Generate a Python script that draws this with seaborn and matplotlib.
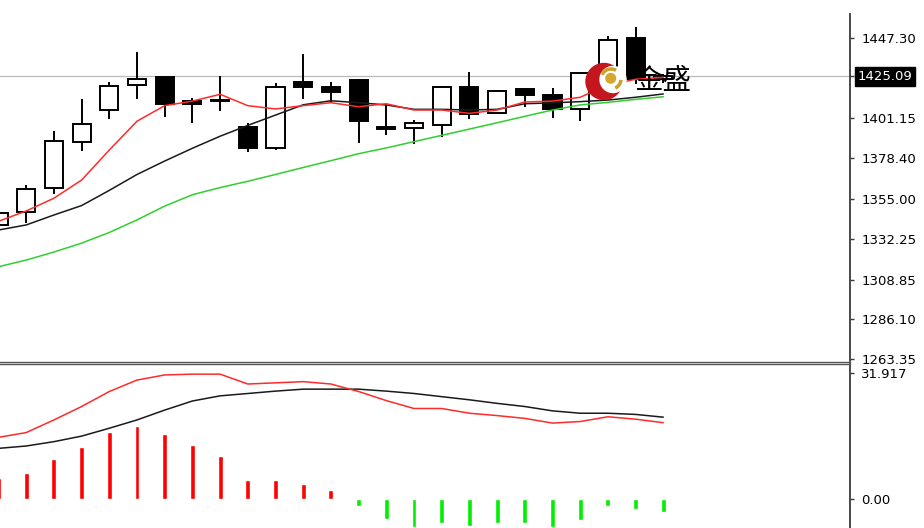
# ============================================================
# GOLD DAILY CANDLES + MA  /  MACD SUB-PANEL
# ============================================================

import numpy as np
import pandas as pd
import matplotlib
matplotlib.use('Agg')
import matplotlib.pyplot as plt
import matplotlib.transforms as mtransforms
from matplotlib.patches import Circle, Arc
import seaborn as sns

# ============================================================
# DATA
# ============================================================

opens  = [1340.1, 1347.3, 1361.1, 1387.6, 1405.7, 1420.2, 1424.6, 1411.0, 1411.6, 1396.3,
          1384.0, 1421.9, 1419.2, 1423.3, 1396.0, 1395.4, 1397.3, 1418.9, 1404.2, 1417.8,
          1414.7, 1406.3, 1426.5, 1447.0, 1423.5]
highs  = [1349.0, 1363.0, 1394.1, 1412.2, 1422.1, 1439.3, 1425.0, 1412.6, 1425.4, 1398.3,
          1421.2, 1438.0, 1422.1, 1423.5, 1408.5, 1400.4, 1419.0, 1427.5, 1417.4, 1418.2,
          1418.3, 1427.2, 1448.3, 1453.3, 1426.5]
lows   = [1337.5, 1341.4, 1357.6, 1382.6, 1400.8, 1412.0, 1402.1, 1398.6, 1405.5, 1382.0,
          1383.0, 1412.4, 1410.7, 1386.8, 1391.6, 1386.6, 1390.4, 1400.6, 1403.8, 1407.6,
          1401.2, 1399.8, 1422.0, 1421.0, 1421.5]
closes = [1346.9, 1360.5, 1388.3, 1397.9, 1419.6, 1423.8, 1409.2, 1409.5, 1410.8, 1384.0,
          1419.0, 1418.9, 1416.0, 1399.8, 1395.2, 1398.4, 1418.9, 1403.6, 1416.8, 1414.5,
          1406.3, 1426.9, 1446.0, 1423.5, 1425.09]

ma_fast = [1342.2, 1348.1, 1355.4, 1365.8, 1383.0, 1399.5, 1408.4, 1411.0, 1414.9, 1408.4,
           1406.5, 1408.4, 1410.1, 1407.8, 1409.5, 1405.9, 1405.9, 1404.0, 1405.9, 1410.5,
           1411.0, 1413.2, 1420.2, 1423.5, 1424.6]
ma_mid  = [1337.2, 1340.1, 1345.8, 1351.2, 1359.9, 1369.0, 1376.7, 1384.0, 1390.9, 1397.1,
           1403.0, 1408.9, 1411.2, 1410.1, 1408.8, 1406.3, 1406.3, 1405.9, 1406.3, 1409.5,
           1410.0, 1410.7, 1411.6, 1413.2, 1415.1]
ma_slow = [1316.2, 1320.0, 1324.6, 1329.7, 1335.8, 1343.0, 1350.9, 1357.4, 1361.5, 1365.1,
           1369.0, 1373.0, 1376.9, 1380.9, 1384.2, 1387.8, 1391.4, 1395.0, 1398.6, 1402.3,
           1405.9, 1408.8, 1410.3, 1412.0, 1413.5]

macd_hist = [5.3, 6.6, 10.3, 13.3, 17.0, 18.6, 16.5, 13.7, 10.9, 4.8,
             4.8, 3.8, 2.3, -1.7, -5.1, -6.9, -6.0, -6.7, -6.1, -6.1,
             -6.9, -5.2, -1.7, -2.5, -3.1]
macd_fast = [15.7, 16.9, 20.1, 23.5, 27.3, 30.2, 31.5, 31.7, 31.7, 29.2,
             29.5, 29.8, 29.2, 27.3, 25.0, 23.0, 23.0, 21.8, 21.2, 20.5,
             19.3, 19.7, 20.9, 20.3, 19.4]
macd_slow = [12.9, 13.5, 14.6, 16.0, 18.0, 20.1, 22.6, 24.9, 26.2, 26.8,
             27.4, 27.9, 27.9, 27.9, 27.4, 26.8, 26.0, 25.2, 24.3, 23.5,
             22.4, 21.8, 21.8, 21.5, 20.8]

price_ticks       = [1447.30, 1425.09, 1401.15, 1378.40, 1355.00, 1332.25, 1308.85, 1286.10, 1263.35]
price_tick_labels = ['1447.30', '', '1401.15', '1378.40', '1355.00', '1332.25', '1308.85', '1286.10', '1263.35']
last_price        = 1425.09
last_price_label  = '1425.09'

macd_ticks       = [31.917, 0.0]
macd_tick_labels = ['31.917', '0.00']

brand = '金盛'

# ============================================================
# FRAME
# ============================================================

df = pd.DataFrame({
    'bar':       np.arange(len(opens)),
    'open':      opens,
    'high':      highs,
    'low':       lows,
    'close':     closes,
    'ma_fast':   ma_fast,
    'ma_mid':    ma_mid,
    'ma_slow':   ma_slow,
    'hist':      macd_hist,
    'macd_fast': macd_fast,
    'macd_slow': macd_slow,
})
df['up']     = df['close'] >= df['open']
df['bottom'] = df[['open', 'close']].min(axis=1)
df['height'] = (df['close'] - df['open']).abs().clip(lower=0.8)

sns.set_style('white')
plt.rcParams['font.family'] = ['DejaVu Sans', 'Noto Sans CJK SC']

W, H = 924, 528
fig = plt.figure(figsize=(W / 100, H / 100), dpi=100)

ax  = fig.add_axes([0, 1 - 361.5 / H, 850 / W, (361.5 - 14) / H])
ax2 = fig.add_axes([0, 0, 850 / W, 1 - 364 / H])

bar_px = 27.7
x0 = 1.5 / bar_px
xlim = (x0, x0 + 850 / bar_px)

# ============================================================
# PRICE PANEL
# ============================================================

ax.axhline(last_price, color='#b9b9b9', lw=0.9, zorder=1)
ax.vlines(df['bar'], df['low'], df['high'], color='black', lw=1.4, zorder=2)
ax.bar(df['bar'], df['height'], bottom=df['bottom'], width=0.65,
       color=np.where(df['up'], 'white', 'black'), edgecolor='black',
       linewidth=1.4, zorder=3)

sns.lineplot(data=df, x='bar', y='ma_slow', color='#2fcf2f', lw=1.1, ax=ax, zorder=4, legend=False)
sns.lineplot(data=df, x='bar', y='ma_mid',  color='#1a1a1a', lw=1.1, ax=ax, zorder=4, legend=False)
sns.lineplot(data=df, x='bar', y='ma_fast', color='#ff2a2a', lw=1.1, ax=ax, zorder=5, legend=False)

ax.set_xlim(*xlim)
ax.set_ylim(1261.93, 1460.87)
ax.yaxis.tick_right()
ax.set_yticks(price_ticks)
ax.set_yticklabels(price_tick_labels)
ax.set_xticks([])
ax.set_xlabel('')
ax.set_ylabel('')
ax.tick_params(axis='y', direction='out', length=3, width=1, pad=5,
               labelsize=9.5, colors='#3a3a3a', labelcolor='black')

trans = mtransforms.blended_transform_factory(ax.transAxes, ax.transData)
ax.text(858 / 850, last_price, last_price_label, transform=trans,
        ha='left', va='center', fontsize=9.5, color='white',
        bbox=dict(facecolor='black', edgecolor='black', boxstyle='square,pad=0.2'))

for side in ['left', 'top']:
    ax.spines[side].set_visible(False)
ax.spines['right'].set_color('#3a3a3a')
ax.spines['right'].set_linewidth(1.3)
ax.spines['bottom'].set_color('#555555')
ax.spines['bottom'].set_linewidth(1.0)

# ============================================================
# MACD PANEL
# ============================================================

ax2.bar(df['bar'], df['hist'], width=0.18,
        color=np.where(df['hist'] >= 0, '#ff0000', '#00ee00'), zorder=2)
sns.lineplot(data=df, x='bar', y='macd_slow', color='#1a1a1a', lw=1.1, ax=ax2, zorder=3, legend=False)
sns.lineplot(data=df, x='bar', y='macd_fast', color='#ff2a2a', lw=1.1, ax=ax2, zorder=4, legend=False)

ax2.set_xlim(*xlim)
ax2.set_ylim(-7.27, 34.27)
ax2.yaxis.tick_right()
ax2.set_yticks(macd_ticks)
ax2.set_yticklabels(macd_tick_labels)
ax2.set_xticks([])
ax2.set_xlabel('')
ax2.set_ylabel('')
ax2.tick_params(axis='y', direction='out', length=3, width=1, pad=5,
                labelsize=9.5, colors='#3a3a3a', labelcolor='black')

for side in ['left', 'bottom']:
    ax2.spines[side].set_visible(False)
ax2.spines['right'].set_color('#3a3a3a')
ax2.spines['right'].set_linewidth(1.3)
ax2.spines['top'].set_color('#555555')
ax2.spines['top'].set_linewidth(1.0)

# ============================================================
# WATERMARK LOGO
# ============================================================

ov = fig.add_axes([0, 0, 1, 1], zorder=10)
ov.set_xlim(0, W)
ov.set_ylim(H, 0)
ov.axis('off')
ov.patch.set_alpha(0)

ov.add_patch(Circle((604, 81.5), 18, color='#c4161c'))
ov.add_patch(Circle((613, 79.5), 13, color='white'))
ov.add_patch(Arc((611, 79), 20, 20, theta1=205, theta2=300, color='#c9a227', lw=2.5))
ov.add_patch(Arc((611, 79), 20, 20, theta1=5, theta2=65, color='#c9a227', lw=2.5))
ov.add_patch(Circle((610.7, 78.3), 4.8, color='#d4a82a'))
ov.text(634, 81, brand, fontsize=20.5, color='black', ha='left', va='center',
        family=['Noto Sans CJK SC', 'DejaVu Sans'])

fig.savefig('out.png', dpi=100)
